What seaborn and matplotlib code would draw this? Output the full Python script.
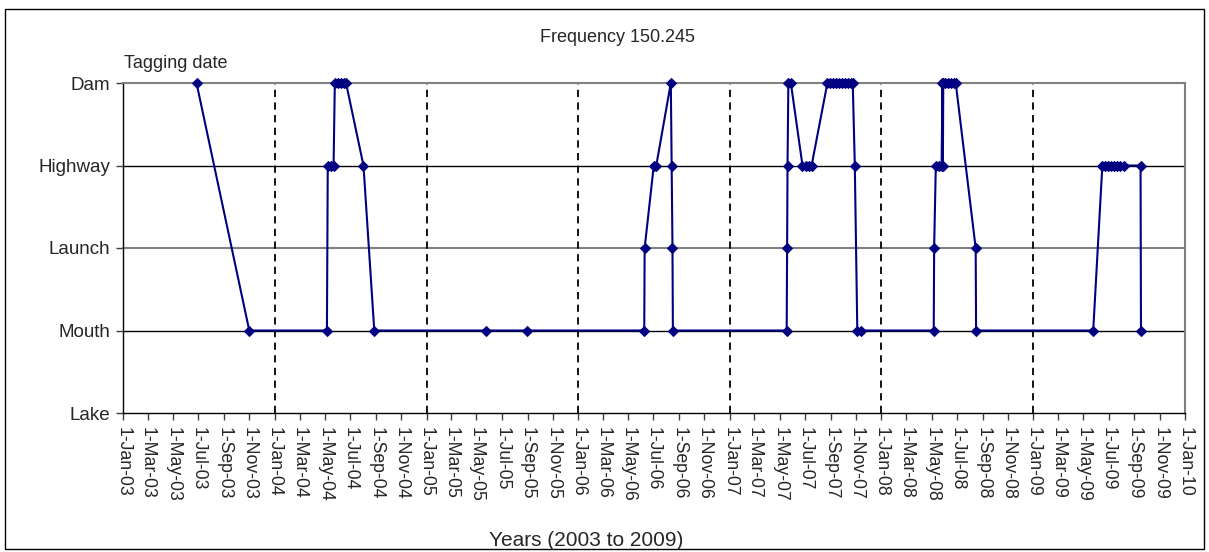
import pandas as pd
import matplotlib
matplotlib.use('Agg')
import matplotlib.pyplot as plt
import matplotlib.dates as mdates
from matplotlib.ticker import FuncFormatter
from matplotlib.patches import Rectangle
import seaborn as sns

# location levels, bottom to top
levels = ['Lake', 'Mouth', 'Launch', 'Highway', 'Dam']

# detections for frequency 150.245
dates = [
    '2003-06-27', '2003-11-01',
    '2004-05-06', '2004-05-08', '2004-05-15', '2004-05-22',
    '2004-05-25', '2004-06-01', '2004-06-09', '2004-06-16', '2004-06-21',
    '2004-08-02', '2004-08-28',
    '2005-05-23', '2005-08-30',
    '2006-06-09', '2006-06-10', '2006-07-02', '2006-07-08',
    '2006-08-12', '2006-08-14', '2006-08-16', '2006-08-17',
    '2007-05-18', '2007-05-19', '2007-05-20', '2007-05-22', '2007-05-28',
    '2007-06-25', '2007-07-03', '2007-07-10', '2007-07-17',
    '2007-08-24', '2007-08-31', '2007-09-07', '2007-09-14', '2007-09-21',
    '2007-09-28', '2007-10-05', '2007-10-12', '2007-10-19', '2007-10-24',
    '2007-10-29', '2007-11-04', '2007-11-13',
    '2008-05-06', '2008-05-07', '2008-05-11', '2008-05-18', '2008-05-25',
    '2008-05-27', '2008-05-28', '2008-05-29', '2008-06-02', '2008-06-09',
    '2008-06-16', '2008-06-24', '2008-06-28',
    '2008-08-15', '2008-08-16',
    '2009-05-25', '2009-06-16', '2009-06-23', '2009-06-30', '2009-07-07',
    '2009-07-14', '2009-07-22', '2009-07-29', '2009-08-08',
    '2009-09-16', '2009-09-17',
]
locations = [
    'Dam', 'Mouth',
    'Mouth', 'Highway', 'Highway', 'Highway',
    'Dam', 'Dam', 'Dam', 'Dam', 'Dam',
    'Highway', 'Mouth',
    'Mouth', 'Mouth',
    'Mouth', 'Launch', 'Highway', 'Highway',
    'Dam', 'Highway', 'Launch', 'Mouth',
    'Mouth', 'Launch', 'Highway', 'Dam', 'Dam',
    'Highway', 'Highway', 'Highway', 'Highway',
    'Dam', 'Dam', 'Dam', 'Dam', 'Dam',
    'Dam', 'Dam', 'Dam', 'Dam', 'Dam',
    'Highway', 'Mouth', 'Mouth',
    'Mouth', 'Launch', 'Highway', 'Highway', 'Highway',
    'Dam', 'Highway', 'Dam', 'Dam', 'Dam',
    'Dam', 'Dam', 'Dam',
    'Launch', 'Mouth',
    'Mouth', 'Highway', 'Highway', 'Highway', 'Highway',
    'Highway', 'Highway', 'Highway', 'Highway',
    'Highway', 'Mouth',
]
year_starts = ['2004-01-01', '2005-01-01', '2006-01-01',
               '2007-01-01', '2008-01-01', '2009-01-01']

df = pd.DataFrame({'date': pd.to_datetime(dates), 'location': locations})
df['level'] = df['location'].map({name: i for i, name in enumerate(levels)})

sns.set_style('white')
plt.rcParams['font.family'] = ['Liberation Sans', 'DejaVu Sans']

W, H = 1209, 552
fig = plt.figure(figsize=(W / 100, H / 100), dpi=100)
ax = fig.add_axes([123 / W, 1 - 413 / H, (1185 - 123) / W, (413 - 83) / H])

# horizontal grid lines
ax.axhline(levels.index('Mouth'), color='black', lw=1, zorder=1)
ax.axhline(levels.index('Highway'), color='black', lw=1, zorder=1)
ax.axhline(levels.index('Launch'), color='#808080', lw=1.5, zorder=1)

# dashed year separators
for d in pd.to_datetime(year_starts):
    ax.axvline(d, color='black', lw=1.3, linestyle=(0, (4, 3)), zorder=2)

sns.lineplot(data=df, x='date', y='level', sort=False, estimator=None,
             color='#000080', linewidth=1.5, marker='D', markersize=5.4,
             markeredgecolor='#000080', ax=ax, zorder=5)
for line in ax.lines:
    line.set_clip_on(False)

ax.set_xlim(pd.Timestamp('2003-01-01'), pd.Timestamp('2010-01-01'))
ax.set_ylim(0, 4)

ax.xaxis.set_major_locator(mdates.MonthLocator(bymonth=[1, 3, 5, 7, 9, 11]))
ax.xaxis.set_major_formatter(FuncFormatter(
    lambda v, p: f"{mdates.num2date(v).day}-{mdates.num2date(v):%b-%y}"))
ax.set_yticks(range(len(levels)))
ax.set_yticklabels(levels)

ax.tick_params(axis='x', direction='out', length=5, width=1, color='#404040',
               labelsize=12.7, labelrotation=270, pad=5, bottom=True)
ax.tick_params(axis='y', direction='out', length=5, width=1, color='#404040',
               labelsize=13.5, pad=4, left=True)
ax.set_xlabel('')
ax.set_ylabel('')

for side in ['left', 'bottom']:
    ax.spines[side].set_color('black')
    ax.spines[side].set_linewidth(1)
for side in ['top', 'right']:
    ax.spines[side].set_color('#808080')
    ax.spines[side].set_linewidth(1.5)

fig.text(617 / W, 1 - 37 / H, 'Frequency 150.245', ha='center', va='center', fontsize=13)
fig.text(124 / W, 1 - 64 / H, 'Tagging date', ha='left', va='center', fontsize=13)
fig.text(586 / W, 1 - 540 / H, 'Years (2003 to 2009)', ha='center', va='center', fontsize=15)

fig.patches.append(Rectangle((5 / W, 1 - 549 / H), (1204 - 5) / W, (549 - 9) / H,
                             transform=fig.transFigure, fill=False,
                             edgecolor='black', lw=1))

fig.savefig('out.png', dpi=100)
